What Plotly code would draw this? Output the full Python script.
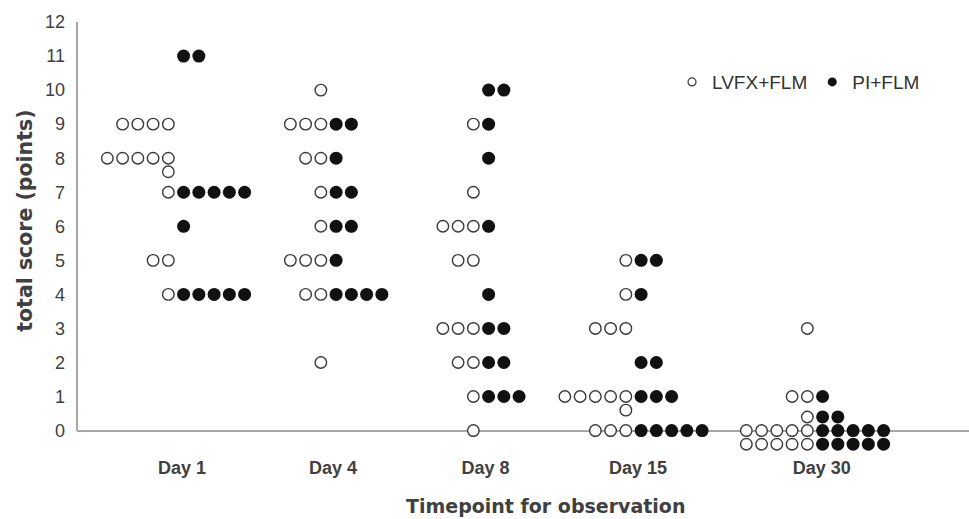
import plotly.graph_objects as go

# ---- data ----
days = ["Day 1", "Day 4", "Day 8", "Day 15", "Day 30"]
day_pos = [1.0, 2.0, 3.0, 4.0, 5.19]          # category positions on the x axis
label_pos = [1.04, 2.03, 3.03, 4.03, 5.235]  # tick label positions

lvfx_day1 = [9, 9, 9, 9, 8, 8, 8, 8, 8, 8, 7, 5, 5, 4]
lvfx_day4 = [10, 9, 9, 9, 8, 8, 7, 6, 5, 5, 5, 4, 4, 2]
lvfx_day8 = [9, 7, 6, 6, 6, 5, 5, 3, 3, 3, 2, 2, 1, 0]
lvfx_day15 = [5, 4, 3, 3, 3, 1, 1, 1, 1, 1, 1, 0, 0, 0]
lvfx_day30 = [3, 1, 1, 0, 0, 0, 0, 0, 0, 0, 0, 0, 0, 0]

pi_day1 = [11, 11, 7, 7, 7, 7, 7, 6, 4, 4, 4, 4, 4]
pi_day4 = [9, 9, 8, 7, 7, 6, 6, 5, 4, 4, 4, 4]
pi_day8 = [10, 10, 9, 8, 6, 4, 3, 3, 2, 2, 1, 1, 1]
pi_day15 = [5, 5, 4, 2, 2, 1, 1, 1, 0, 0, 0, 0, 0]
pi_day30 = [1, 0, 0, 0, 0, 0, 0, 0, 0, 0, 0, 0, 0]

lvfx = [lvfx_day1, lvfx_day4, lvfx_day8, lvfx_day15, lvfx_day30]
pi = [pi_day1, pi_day4, pi_day8, pi_day15, pi_day30]

y_ticks = list(range(0, 13))

# ---- dot-plot layout (computed) ----
STEP = 0.1          # horizontal spacing between dots (x units)
PER_ROW = 5         # max dots per row before overflowing
ROW_SHIFT = [0, -0.4, 0.4]  # vertical shift of overflow rows


def stack(groups, side):
    xs, ys = [], []
    for center, scores in zip(day_pos, groups):
        for s in sorted(set(scores), reverse=True):
            n = scores.count(s)
            for i in range(n):
                row, col = divmod(i, PER_ROW)
                xs.append(center + side * (col + 0.5) * STEP)
                ys.append(s + ROW_SHIFT[row])
    return xs, ys


ox, oy = stack(lvfx, -1)
fx, fy = stack(pi, +1)

axis_grey = "#a6a6a6"
text_grey = "#404040"

fig = go.Figure()
fig.add_trace(go.Scatter(
    x=ox, y=oy, mode="markers", name="LVFX+FLM", showlegend=False,
    cliponaxis=False,
    marker=dict(symbol="circle", size=11.5, color="white",
                line=dict(color="#3a3a3a", width=1.4)),
))
fig.add_trace(go.Scatter(
    x=fx, y=fy, mode="markers", name="PI+FLM", showlegend=False,
    cliponaxis=False,
    marker=dict(symbol="circle", size=13, color="#111111",
                line=dict(width=0)),
))
# legend entries (smaller symbols, as in the reference)
fig.add_trace(go.Scatter(
    x=[None], y=[None], mode="markers", name="LVFX+FLM",
    marker=dict(symbol="circle", size=8, color="white",
                line=dict(color="#3a3a3a", width=1.2)),
))
fig.add_trace(go.Scatter(
    x=[None], y=[None], mode="markers", name="PI+FLM",
    marker=dict(symbol="circle", size=9, color="#111111", line=dict(width=0)),
))

# vertical axis line from 0 to 12 only
fig.add_shape(type="line", xref="paper", yref="y", x0=0, x1=0,
              y0=y_ticks[0], y1=y_ticks[-1],
              line=dict(color=axis_grey, width=2), layer="below")

fig.add_annotation(text="Timepoint for observation", xref="paper", yref="paper",
                   x=0.5247, y=-0.129, xanchor="center", yanchor="middle",
                   showarrow=False,
                   font=dict(family="DejaVu Sans", size=19, weight="bold",
                             color=text_grey))
fig.add_annotation(text="total score (points)", xref="paper", yref="paper",
                   x=-0.0577, y=0.5355, xanchor="center", yanchor="middle",
                   textangle=-90, showarrow=False,
                   font=dict(family="DejaVu Sans", size=20.5, weight="bold",
                             color=text_grey))

fig.update_layout(
    width=969, height=519,
    margin=dict(l=77, r=0, t=22, b=67.5),
    paper_bgcolor="white", plot_bgcolor="white",
    font=dict(family="Liberation Sans, Arial, sans-serif", color=text_grey),
    showlegend=True,
    legend=dict(
        orientation="h", x=0.9507, xanchor="right", y=0.860, yanchor="middle",
        font=dict(size=19, color="#333333"), bgcolor="rgba(0,0,0,0)",
        itemwidth=30, tracegroupgap=0,
    ),
    xaxis=dict(
        range=[0.351, 6.2], showgrid=False, zeroline=False, showline=False,
        tickmode="array", tickvals=label_pos, ticktext=days,
        ticks="", ticklabelstandoff=4,
        tickfont=dict(size=18, weight="bold", color=text_grey),
        layer="below traces",
    ),
    yaxis=dict(
        range=[-0.6, 12], showgrid=False, showline=False,
        zeroline=True, zerolinecolor=axis_grey, zerolinewidth=2,
        tickmode="array", tickvals=y_ticks, ticktext=[str(v) for v in y_ticks],
        ticks="", ticklabelstandoff=11,
        tickfont=dict(size=18, color=text_grey),
        layer="below traces",
    ),
)

fig.write_html("out.html", config={"displayModeBar": False},
               post_script="document.body.style.margin='0';")
